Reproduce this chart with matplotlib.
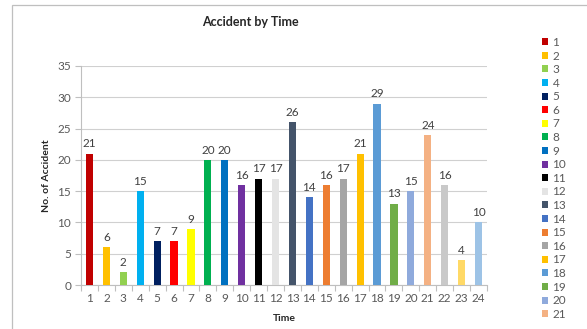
import matplotlib
matplotlib.use("Agg")
import matplotlib.pyplot as plt
from matplotlib.patches import Rectangle

plt.rcParams['font.family'] = ['Lato', 'DejaVu Sans']

# accidents per hour of day
hours = [str(h) for h in range(1, 25)]
accidents = [21, 6, 2, 15, 7, 7, 9, 20, 20, 16, 17, 17,
             26, 14, 16, 17, 21, 29, 13, 15, 24, 16, 4, 10]
bar_colors = ['#C00000', '#FFC000', '#92D050', '#00B0F0', '#002060', '#FF0000',
              '#FFFF00', '#00B050', '#0070C0', '#7030A0', '#000000', '#E4E4E4',
              '#44546A', '#4472C4', '#ED7D31', '#A5A5A5', '#FFC000', '#5B9BD5',
              '#70AD47', '#8FAADC', '#F4B183', '#C9C9C9', '#FFD966', '#9DC3E6']
y_ticks = [0, 5, 10, 15, 20, 25, 30, 35]

W, H = 587, 329
fig = plt.figure(figsize=(W / 100, H / 100), dpi=100)
fig.patch.set_facecolor('white')

# outer chart frame
fig.patches.append(Rectangle((12 / W, -0.1), 1.2, (H - 5) / H + 0.1,
                             transform=fig.transFigure, fill=False,
                             edgecolor='#BFBFBF', linewidth=0.9))

ax = fig.add_axes([81 / W, 1 - 285 / H, (487 - 81) / W, (285 - 66) / H])
x = range(len(hours))
bars = ax.bar(x, accidents, width=0.42, color=bar_colors, zorder=3)

for xi, v in zip(x, accidents):
    ax.annotate(str(v), (xi, v), xytext=(0, 3), textcoords='offset points',
                ha='center', va='bottom', fontsize=8.5, color='#404040')

ax.set_xlim(-0.5, len(hours) - 0.5)
ax.set_ylim(0, 35)
ax.set_yticks(y_ticks)
ax.set_xticks(list(x))
ax.set_xticklabels(hours)
ax.set_xticks([i - 0.5 for i in range(len(hours) + 1)], minor=True)
ax.tick_params(axis='x', which='major', length=0, pad=6, labelsize=8.5, labelcolor='#595959')
ax.tick_params(axis='x', which='minor', length=4, color='#BFBFBF', width=0.8)
ax.tick_params(axis='y', length=4, color='#BFBFBF', width=0.8, labelsize=8.5,
               labelcolor='#595959', pad=3)
ax.grid(axis='y', color='#D0D0D0', linewidth=0.8, zorder=0)
for side in ['top', 'right']:
    ax.spines[side].set_visible(False)
ax.spines['left'].set_color('#BFBFBF')
ax.spines['bottom'].set_color('#BFBFBF')

ax.set_ylabel('No. of Accident', fontsize=7.5, fontweight='bold', color='#262626', labelpad=5)
ax.set_xlabel('Time', fontsize=7.5, fontweight='bold', color='#262626', labelpad=7)
fig.text(250 / W, 1 - 22 / H, 'Accident by Time', ha='center', va='center',
         fontsize=9, fontweight='bold', color='#262626')

# legend runs off the bottom of the frame after hour 21
leg = fig.legend(bars[:21], hours[:21], loc='upper left',
                 bbox_to_anchor=(536 / W, 1 - 31 / H), frameon=False,
                 fontsize=8.5, handlelength=0.55, handleheight=0.55,
                 handletextpad=0.35, labelspacing=0.22, borderpad=0)
for t in leg.get_texts():
    t.set_color('#595959')

fig.savefig('out.png', dpi=100)
